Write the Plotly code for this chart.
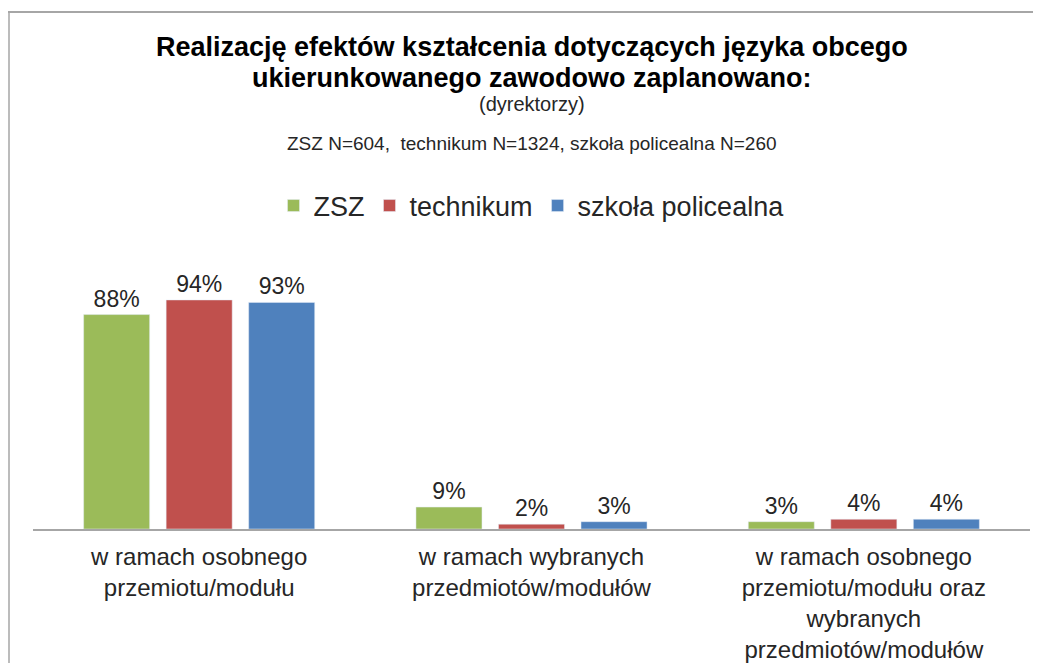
import plotly.graph_objects as go

categories = [
    "w ramach osobnego<br>przemiotu/modułu",
    "w ramach wybranych<br>przedmiotów/modułów",
    "w ramach osobnego<br>przemiotu/modułu oraz<br>wybranych<br>przedmiotów/modułów",
]
series_names = ["ZSZ", "technikum", "szkoła policealna"]
zsz = [88, 9, 3]
technikum = [94, 2, 4]
policealna = [93, 3, 4]
colors = ["#9BBB59", "#C0504D", "#4F81BD"]
title_lines = [
    "<b>Realizację efektów kształcenia dotyczących języka obcego</b>",
    "<b>ukierunkowanego zawodowo zaplanowano:</b>",
]
subtitle = "(dyrektorzy)"
sample_note = "ZSZ N=604,  technikum N=1324, szkoła policealna N=260"

# page body has an 8px margin: work in reference pixels and shift by OFF
OFF = 8
W, H = 1041 - 2 * OFF, 671 - 2 * OFF
REF_L, REF_R, REF_T, REF_B = 33, 1030, 250, 529
L, R = REF_L - OFF, W - (REF_R - OFF)
T, B = REF_T - OFF, H - (REF_B - OFF)
plot_h = H - T - B
plot_w = W - L - R
y_max = 114.5
TXT = "#262626"

def py(p):
    return (REF_B - p) / plot_h

def px(p):
    return (p - REF_L) / plot_w

fig = go.Figure()
for name, vals, col in zip(series_names, [zsz, technikum, policealna], colors):
    fig.add_trace(go.Bar(
        x=categories, y=vals, name=name,
        marker=dict(color=col),
        text=[f"{v}%" for v in vals], textposition="outside",
        textfont=dict(size=23, color=TXT),
        cliponaxis=False,
    ))

fig.update_layout(
    width=W, height=H,
    margin=dict(l=L, r=R, t=T, b=B, autoexpand=False),
    paper_bgcolor="white", plot_bgcolor="white",
    barmode="group", bargap=0.255, bargroupgap=0.2,
    font=dict(family="Liberation Sans, Arial, sans-serif", color=TXT),
    legend=dict(
        orientation="h", x=0.5, xanchor="center", y=py(206), yanchor="middle",
        font=dict(size=27, color=TXT), traceorder="normal",
    ),
    xaxis=dict(
        showline=True, linecolor="#A6A6A6", linewidth=2, ticks="",
        tickfont=dict(size=24, color=TXT), showgrid=False,
        ticklabelstandoff=5, automargin=False,
    ),
    yaxis=dict(range=[0, y_max], visible=False, showgrid=False, zeroline=False,
               automargin=False),
    annotations=[
        dict(text=title_lines[0], x=0.5, xref="paper", y=py(47), yref="paper",
             xanchor="center", yanchor="middle", showarrow=False,
             font=dict(size=27, color="#000000")),
        dict(text=title_lines[1], x=0.5, xref="paper", y=py(78), yref="paper",
             xanchor="center", yanchor="middle", showarrow=False,
             font=dict(size=27, color="#000000")),
        dict(text=subtitle, x=0.5, xref="paper", y=py(104), yref="paper",
             xanchor="center", yanchor="middle", showarrow=False,
             font=dict(size=20, color=TXT)),
        dict(text=sample_note, x=0.5, xref="paper",
             y=py(143), yref="paper", xanchor="center", yanchor="middle", showarrow=False,
             font=dict(size=19, color=TXT)),
    ],
    shapes=[
        dict(type="line", xref="paper", yref="paper", x0=px(OFF), x1=px(1041), y0=py(12), y1=py(12),
             line=dict(color="#A6A6A6", width=2)),
        dict(type="line", xref="paper", yref="paper", x0=px(9), x1=px(9), y0=py(12), y1=py(671),
             line=dict(color="#A6A6A6", width=1.5)),
    ],
)

fig.write_html("out.html")
